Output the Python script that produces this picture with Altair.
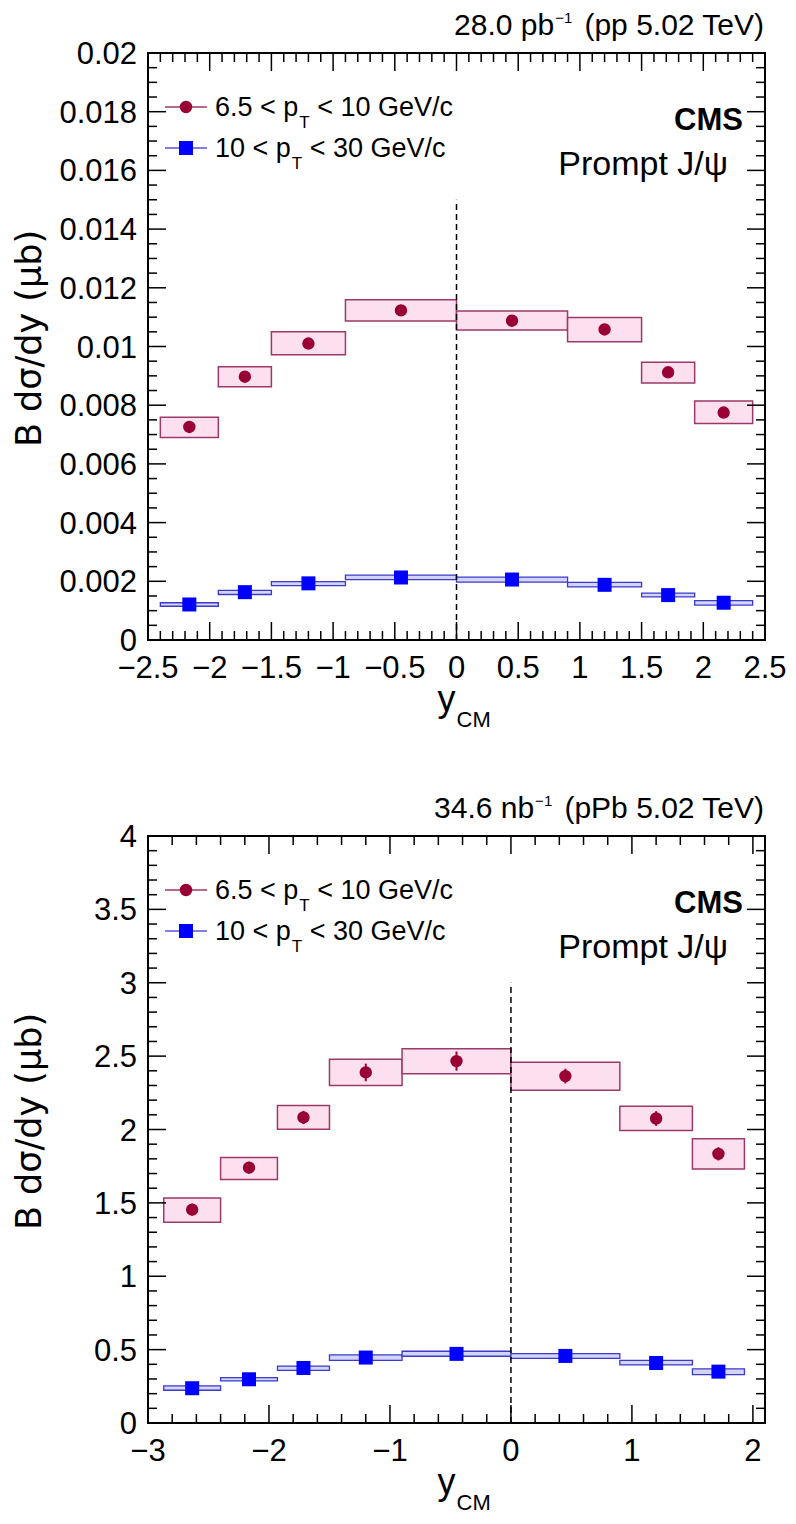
import altair as alt
import pandas as pd
import numpy as np

FONT = "Liberation Sans"
W, H = 617, 587

PINK_MARK = "#990033"
PINK_FILL = "#fde0ef"
PINK_EDGE = "#9c3a67"
BLUE_MARK = "#0000ff"
BLUE_FILL = "#d4d4f6"
BLUE_EDGE = "#3a3acc"

# ---------------- pp 5.02 TeV ----------------
pp_bin_lo = [-2.4, -1.93, -1.5, -0.9, 0.0, 0.9, 1.5, 1.93]
pp_bin_hi = [-1.93, -1.5, -0.9, 0.0, 0.9, 1.5, 1.93, 2.4]
pp_y = [-2.165, -1.715, -1.2, -0.45, 0.45, 1.2, 1.715, 2.165]
pp_low_val = [0.00726, 0.00897, 0.01010, 0.01123, 0.01088, 0.01058, 0.00912, 0.00775]
pp_low_sys_lo = [0.00690, 0.00863, 0.00972, 0.01087, 0.01056, 0.01016, 0.00876, 0.00738]
pp_low_sys_hi = [0.00759, 0.00931, 0.01050, 0.01159, 0.01121, 0.01099, 0.00946, 0.00814]
pp_high_val = [0.00121, 0.00163, 0.00193, 0.00213, 0.00206, 0.00188, 0.00153, 0.00127]
pp_high_sys_lo = [0.00115, 0.00155, 0.00185, 0.00206, 0.00197, 0.00181, 0.00147, 0.00119]
pp_high_sys_hi = [0.00127, 0.00169, 0.00199, 0.00221, 0.00214, 0.00196, 0.00160, 0.00134]

# ---------------- pPb 5.02 TeV ----------------
pb_bin_lo = [-2.87, -2.4, -1.93, -1.5, -0.9, 0.0, 0.9, 1.5]
pb_bin_hi = [-2.4, -1.93, -1.5, -0.9, 0.0, 0.9, 1.5, 1.93]
pb_y = [-2.635, -2.165, -1.715, -1.2, -0.45, 0.45, 1.2, 1.715]
pb_low_val = [1.454, 1.740, 2.082, 2.389, 2.466, 2.364, 2.075, 1.834]
pb_low_stat = [0.040, 0.040, 0.045, 0.060, 0.065, 0.050, 0.050, 0.045]
pb_low_sys_lo = [1.368, 1.660, 2.002, 2.300, 2.380, 2.268, 1.993, 1.730]
pb_low_sys_hi = [1.534, 1.810, 2.164, 2.479, 2.550, 2.459, 2.159, 1.937]
pb_high_val = [0.237, 0.298, 0.375, 0.446, 0.471, 0.457, 0.409, 0.350]
pb_high_sys_lo = [0.223, 0.287, 0.359, 0.427, 0.455, 0.441, 0.396, 0.330]
pb_high_sys_hi = [0.253, 0.309, 0.387, 0.464, 0.489, 0.473, 0.427, 0.369]

# ---------------- axes / ticks ----------------
pp_x_domain = [-2.5, 2.5]
pp_y_domain = [0.0, 0.02]
pp_x_major = [-2.5, -2.0, -1.5, -1.0, -0.5, 0.0, 0.5, 1.0, 1.5, 2.0, 2.5]
pp_y_major = [0.0, 0.002, 0.004, 0.006, 0.008, 0.01, 0.012, 0.014, 0.016, 0.018, 0.02]
pp_x_minor_step = 0.1
pp_y_minor_step = 0.0005
pp_dash_top = 0.015

pb_x_domain = [-3.0, 2.1]
pb_y_domain = [0.0, 4.0]
pb_x_major = [-3.0, -2.0, -1.0, 0.0, 1.0, 2.0]
pb_y_major = [0.0, 0.5, 1.0, 1.5, 2.0, 2.5, 3.0, 3.5, 4.0]
pb_x_minor_step = 0.2
pb_y_minor_step = 0.1
pb_dash_top = 3.0

legend_low = "6.5 < p"
legend_high = "10 < p"
legend_tail_low = "< 10 GeV/c"
legend_tail_high = "< 30 GeV/c"

# Arial / Liberation Sans advance widths (1/1000 em)
AW = {c: 556 for c in "0123456789"}
AW.update({".": 278, " ": 278, "<": 584, "p": 556, "b": 556, "n": 556, "(": 333, ")": 333,
           "T": 611, "e": 556, "V": 667, "P": 667, "G": 778, "/": 278, "c": 500, "−": 584, "-": 333})


def tw(s, size):
    return sum(AW.get(ch, 556) for ch in s) * size / 1000.0


def fmt(v):
    s = "%g" % v
    return s.replace("-", "\u2212")


ONE = pd.DataFrame({"k": [0]})


def text(s, x, y, size, align="left", weight="normal", angle=0, font=FONT):
    kw = dict(text=s, fontSize=size, font=font, color="black", align=align,
              baseline="alphabetic", fontWeight=weight)
    if angle:
        kw["angle"] = angle
    return alt.Chart(ONE).mark_text(**kw).encode(x=alt.value(x), y=alt.value(y))


def minor_vals(domain, step, majors):
    start = int(np.ceil(domain[0] / step - 1e-9))
    stop = int(np.floor(domain[1] / step + 1e-9))
    vals = [round(k * step, 6) for k in range(start, stop + 1)]
    return [v for v in vals if all(abs(v - m) > 1e-9 for m in majors)]


def panel(bin_lo, bin_hi, yc, lv, llo, lhi, hv, hlo, hhi, xdom, ydom, xmaj, ymaj,
          xstep, ystep, dash_top, lumi_main, lumi_tail, stat=None):
    xs = alt.Scale(domain=xdom, nice=False, zero=False)
    ys = alt.Scale(domain=ydom, nice=False, zero=False)
    df = pd.DataFrame({"lo": bin_lo, "hi": bin_hi, "xc": yc,
                       "lv": lv, "llo": llo, "lhi": lhi,
                       "hv": hv, "hlo": hlo, "hhi": hhi})
    if stat is not None:
        df["slo"] = [a - b for a, b in zip(lv, stat)]
        df["shi"] = [a + b for a, b in zip(lv, stat)]

    X = lambda f: alt.X(f, scale=xs, axis=None)
    Y = lambda f: alt.Y(f, scale=ys, axis=None)

    layers = []
    layers.append(alt.Chart(df).mark_rect(fill=PINK_FILL, stroke=PINK_EDGE, strokeWidth=1.5).encode(
        x=X("lo:Q"), x2="hi:Q", y=Y("llo:Q"), y2="lhi:Q"))
    layers.append(alt.Chart(df).mark_rect(fill=BLUE_FILL, stroke=BLUE_EDGE, strokeWidth=1.3).encode(
        x=X("lo:Q"), x2="hi:Q", y=Y("hlo:Q"), y2="hhi:Q"))
    dash = pd.DataFrame({"x": [0.0], "y": [0.0], "y2": [dash_top]})
    layers.append(alt.Chart(dash).mark_rule(color="black", strokeWidth=1.5, strokeDash=[6, 4]).encode(
        x=X("x:Q"), y=Y("y:Q"), y2="y2:Q"))
    if stat is not None:
        layers.append(alt.Chart(df).mark_rule(color=PINK_MARK, strokeWidth=2).encode(
            x=X("xc:Q"), y=Y("slo:Q"), y2="shi:Q"))
    layers.append(alt.Chart(df).mark_point(shape="circle", filled=True, size=154, color=PINK_MARK,
                                           opacity=1).encode(x=X("xc:Q"), y=Y("lv:Q")))
    layers.append(alt.Chart(df).mark_point(shape="square", filled=True, size=196, color=BLUE_MARK,
                                           opacity=1).encode(x=X("xc:Q"), y=Y("hv:Q")))

    # inward ticks on all four sides
    for vals, ln in ((ymaj, 18), (minor_vals(ydom, ystep, ymaj), 9)):
        tdf = pd.DataFrame({"v": vals})
        layers.append(alt.Chart(tdf).mark_rule(color="black", strokeWidth=1.5).encode(
            y=Y("v:Q"), x=alt.value(0), x2=alt.value(ln)))
        layers.append(alt.Chart(tdf).mark_rule(color="black", strokeWidth=1.5).encode(
            y=Y("v:Q"), x=alt.value(W), x2=alt.value(W - ln)))
    for vals, ln in ((xmaj, 18), (minor_vals(xdom, xstep, xmaj), 9)):
        tdf = pd.DataFrame({"v": vals})
        layers.append(alt.Chart(tdf).mark_rule(color="black", strokeWidth=1.5).encode(
            x=X("v:Q"), y=alt.value(H), y2=alt.value(H - ln)))
        layers.append(alt.Chart(tdf).mark_rule(color="black", strokeWidth=1.5).encode(
            x=X("v:Q"), y=alt.value(0), y2=alt.value(ln)))

    # tick labels, placed through the scales
    ylab = pd.DataFrame({"v": ymaj, "lab": [fmt(v) for v in ymaj]})
    layers.append(alt.Chart(ylab).mark_text(font=FONT, fontSize=31, align="right",
                                            baseline="alphabetic", dy=11, color="black").encode(
        y=Y("v:Q"), x=alt.value(-11), text="lab:N"))
    xlab = pd.DataFrame({"v": xmaj, "lab": [fmt(v) for v in xmaj]})
    layers.append(alt.Chart(xlab).mark_text(font=FONT, fontSize=31, align="center",
                                            baseline="alphabetic", color="black").encode(
        x=X("v:Q"), y=alt.value(H + 38), text="lab:N"))

    # legend (drawn by hand, ROOT style)
    for ry, col in ((54, PINK_EDGE), (95, "#5555dd")):
        layers.append(alt.Chart(ONE).mark_rule(color=col, strokeWidth=1.5).encode(
            x=alt.value(17), x2=alt.value(59), y=alt.value(ry)))
    layers.append(alt.Chart(ONE).mark_point(shape="circle", filled=True, size=154, color=PINK_MARK,
                                            opacity=1).encode(x=alt.value(38), y=alt.value(54)))
    layers.append(alt.Chart(ONE).mark_point(shape="square", filled=True, size=196, color=BLUE_MARK,
                                            opacity=1).encode(x=alt.value(38), y=alt.value(95)))
    lx = 67
    for base, tail, by in ((legend_low, legend_tail_low, 63), (legend_high, legend_tail_high, 104)):
        w1 = tw(base, 27)
        layers.append(text(base, lx, by, 27))
        layers.append(text("T", lx + w1 + 1, by + 12, 17))
        layers.append(text(tail, lx + w1 + 1 + tw("T", 17) + tw(" ", 27), by, 27))

    layers.append(text("CMS", W - 22, 77, 31, align="right", weight="bold"))
    layers.append(text("Prompt J/ψ", W - 37, 122, 34, align="right"))

    # luminosity label
    right = W - 1
    layers.append(text(lumi_tail, right, -18, 30, align="right"))
    x_sup = right - tw(lumi_tail, 30) - tw(" ", 30)
    layers.append(text("−1", x_sup, -30, 15, align="right"))
    x_main = x_sup - tw("−1", 15) - 1
    layers.append(text(lumi_main, x_main, -18, 30, align="right"))

    # axis titles
    layers.append(text("B dσ/dy (μb)", -107, H / 2 - 8, 35, align="center", angle=270,
                       font="DejaVu Sans"))
    layers.append(text("y", W / 2 - 10, H + 71, 36, align="center"))
    layers.append(text("CM", W / 2, H + 87, 22, align="left"))

    return alt.layer(*layers).properties(width=W, height=H)


top = panel(pp_bin_lo, pp_bin_hi, pp_y, pp_low_val, pp_low_sys_lo, pp_low_sys_hi,
            pp_high_val, pp_high_sys_lo, pp_high_sys_hi, pp_x_domain, pp_y_domain,
            pp_x_major, pp_y_major, pp_x_minor_step, pp_y_minor_step, pp_dash_top,
            "28.0 pb", "(pp 5.02 TeV)")
bottom = panel(pb_bin_lo, pb_bin_hi, pb_y, pb_low_val, pb_low_sys_lo, pb_low_sys_hi,
               pb_high_val, pb_high_sys_lo, pb_high_sys_hi, pb_x_domain, pb_y_domain,
               pb_x_major, pb_y_major, pb_x_minor_step, pb_y_minor_step, pb_dash_top,
               "34.6 nb", "(pPb 5.02 TeV)", stat=pb_low_stat)

chart = alt.vconcat(top, bottom, spacing=196, bounds="flush").properties(
    autosize=alt.AutoSizeParams(type="none"),
    padding={"left": 140, "top": 45, "right": 23, "bottom": 1463},
).configure_view(stroke="black", strokeWidth=2)

chart.save("out.html", embed_options={"renderer": "svg", "actions": False})
